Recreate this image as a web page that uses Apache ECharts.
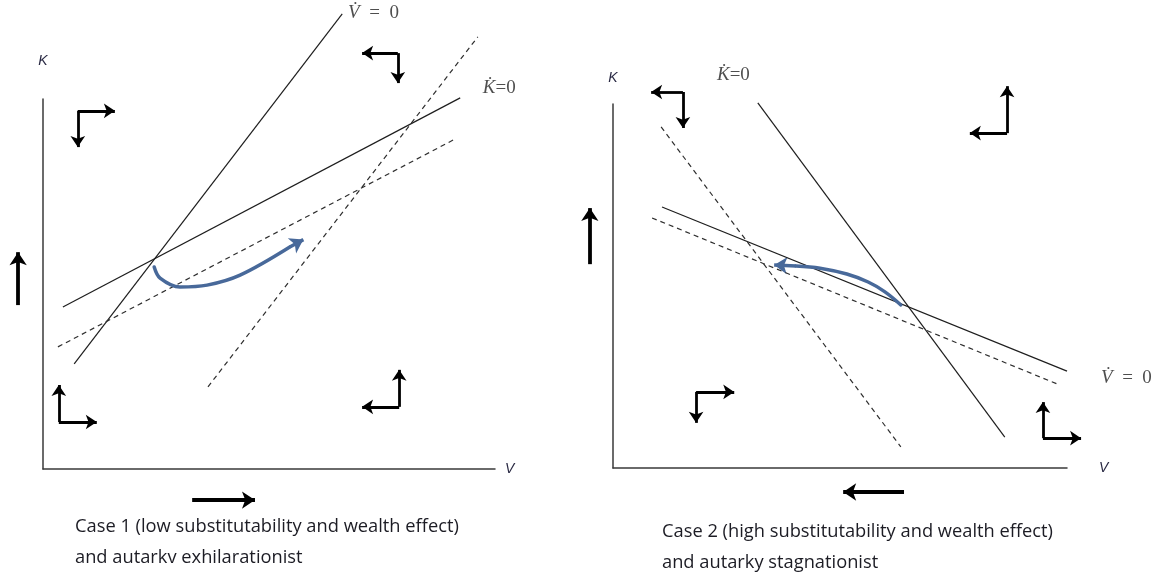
<!DOCTYPE html>
<html>
<head>
<meta charset="utf-8">
<script src="https://cdn.jsdelivr.net/npm/echarts@6/dist/echarts.min.js"></script>
<style>
html,body{margin:0;padding:0;background:#fff;}
#chart{width:1174px;height:576px;}
</style>
</head>
<body>
<div id="chart"></div>
<script>
// ---------- Case 1 (axes in abstract units: V 0..100, K 0..100) ----------
const c1Vdot       = [[6.9, 28.4], [66.2, 123.0]];      // V-dot = 0 (solid, steep)
const c1Kdot       = [[4.4, 43.8], [92.3, 100.3]];      // K-dot = 0 (solid, shallow)
const c1VdotShift  = [[36.5, 22.2], [96.2, 116.8]];     // shifted steep (dashed)
const c1KdotShift  = [[3.3, 33.0], [91.2, 89.2]];       // shifted shallow (dashed)
const c1Path       = [[24.6, 54.6], [25.9, 51.6], [30.3, 49.2], [36.3, 49.7], [43.6, 52.4], [54.6, 60.0], [57.6, 62.0]];
// corner arrows: [tip A, corner, tip B]
const c1Corners    = [
  [[15.9, 96.8], [7.7, 96.8], [7.7, 87.0]],
  [[70.6, 112.4], [78.5, 112.4], [78.5, 104.3]],
  [[3.5, 22.7], [3.5, 12.7], [11.9, 12.7]],
  [[78.8, 26.8], [78.8, 16.8], [70.6, 16.8]]
];
const c1Big        = [[[-5.5, 44.3], [-5.5, 58.6]], [[33.0, -8.4], [46.9, -8.4]]];
const c1Labels     = [['V̇', '  =  0', 67.5, 123.2], ['K̇', '=0', 97.3, 103.0]];
const c1Caption    = ['Case 1 (low substitutability and wealth effect)', 'and autarkv exhilarationist'];

// ---------- Case 2 ----------
const c2Kdot       = [[31.9, 100.3], [86.3, 8.5]];      // K-dot = 0 (solid, steep)
const c2Vdot       = [[10.8, 71.7], [100.0, 26.6]];     // V-dot = 0 (solid, shallow)
const c2KdotShift  = [[10.6, 93.7], [63.4, 5.8]];       // shifted steep (dashed)
const c2VdotShift  = [[8.6, 68.7], [97.8, 23.1]];       // shifted shallow (dashed)
const c2Path       = [[63.4, 44.8], [59.9, 48.4], [56.2, 51.1], [51.5, 53.3], [45.6, 54.9], [40.3, 55.5], [35.5, 55.8]];
const c2Corners    = [
  [[8.4, 103.3], [15.4, 103.3], [15.4, 93.4]],
  [[86.8, 104.9], [86.8, 92.0], [78.6, 92.0]],
  [[26.7, 20.9], [18.3, 20.9], [18.3, 12.4]],
  [[94.7, 18.1], [94.7, 8.2], [103.1, 8.2]]
];
const c2Big        = [[[-5.1, 56.0], [-5.1, 71.4]], [[64.1, -6.6], [50.7, -6.6]]];
const c2Labels     = [['K̇', '=0', 22.9, 108.0], ['V̇', '  =  0', 107.5, 24.7]];
const c2Caption    = ['Case 2 (high substitutability and wealth effect)', 'and autarky stagnationist'];

const BLUE = '#48699a';

function straight(i, pts, dashed) {
  return {
    type: 'line', xAxisIndex: i, yAxisIndex: i, data: pts, showSymbol: false, symbol: 'none',
    clip: false, silent: true,
    lineStyle: { color: dashed ? '#2e2e2e' : '#1e1e1e', width: 1.2, type: dashed ? [5, 4] : 'solid' }
  };
}

function arrowLines(i, segs, size, width, color) {
  return {
    type: 'lines', coordinateSystem: 'cartesian2d', xAxisIndex: i, yAxisIndex: i,
    clip: false, silent: true,
    data: segs.map(c => ({ coords: c })),
    symbol: ['none', 'arrow'], symbolSize: size,
    lineStyle: { color: color, width: width, opacity: 1, curveness: 0 }
  };
}

function panelSeries(i, solids, dashes, path, corners, big, labels) {
  const s = [];
  solids.forEach(p => s.push(straight(i, p, false)));
  dashes.forEach(p => s.push(straight(i, p, true)));
  s.push({
    type: 'line', xAxisIndex: i, yAxisIndex: i, data: path.slice(0, path.length - 1), smooth: 0.35, showSymbol: false,
    symbol: 'none', clip: false, silent: true,
    lineStyle: { color: BLUE, width: 3.5, cap: 'round' }
  });
  s.push(arrowLines(i, [[path[path.length - 2], path[path.length - 1]]], [13, 13], 3.5, BLUE));
  const segs = [];
  corners.forEach(c => { segs.push([c[1], c[0]]); segs.push([c[1], c[2]]); });
  s.push(arrowLines(i, segs, [11, 11], 2.8, '#000'));
  s.push(arrowLines(i, big, [13, 13], 3.8, '#000'));
  s.push({
    type: 'scatter', xAxisIndex: i, yAxisIndex: i, symbolSize: 0, clip: false, silent: true,
    data: labels.map(l => ({ name: l[0] + '|' + l[1], value: [l[2], l[3]] })),
    label: {
      show: true, position: 'right', distance: 0,
      formatter: p => { const t = p.name.split('|'); return '{i|' + t[0] + '}{n|' + t[1] + '}'; },
      rich: {
        i: { fontFamily: 'Liberation Serif', fontStyle: 'italic', fontSize: 19, color: '#222' },
        n: { fontFamily: 'Liberation Serif', fontSize: 19, color: '#222' }
      }
    }
  });
  return s;
}

function xAx(i, gap) {
  return {
    type: 'value', gridIndex: i, min: 0, max: 100,
    axisLine: { show: true, lineStyle: { color: '#3a3a3a', width: 1.5 } },
    axisTick: { show: false }, axisLabel: { show: false }, splitLine: { show: false },
    name: 'V', nameLocation: 'end', nameGap: gap,
    nameTextStyle: { fontFamily: 'Liberation Sans', fontStyle: 'italic', fontSize: 14, color: '#2a2a44', padding: [12, 0, 0, 0] }
  };
}
function yAx(i, gap) {
  return {
    type: 'value', gridIndex: i, min: 0, max: 100,
    axisLine: { show: true, lineStyle: { color: '#3a3a3a', width: 1.5 } },
    axisTick: { show: false }, axisLabel: { show: false }, splitLine: { show: false },
    name: 'K', nameLocation: 'end', nameGap: gap,
    nameTextStyle: { fontFamily: 'Liberation Sans', fontStyle: 'italic', fontSize: 14, color: '#2a2a44' }
  };
}

const captionStyle = { fontFamily: 'Open Sans', fontSize: 18.3, fontWeight: 'normal', color: '#1c1c24', lineHeight: 31 };

const option = {
  animation: false,
  backgroundColor: '#fff',
  title: [
    { text: c1Caption.join('\n'), left: 75, top: 511, textStyle: captionStyle, padding: 0 },
    { text: c2Caption.join('\n'), left: 662, top: 516, textStyle: captionStyle, padding: 0 }
  ],
  grid: [
    { left: 43, top: 99, width: 452, height: 370 },
    { left: 613, top: 104, width: 454, height: 364 }
  ],
  xAxis: [xAx(0, 10), xAx(1, 32)],
  yAxis: [yAx(0, 31), yAx(1, 19)],
  series: [
    ...panelSeries(0, [c1Vdot, c1Kdot], [c1VdotShift, c1KdotShift], c1Path, c1Corners, c1Big, c1Labels),
    ...panelSeries(1, [c2Kdot, c2Vdot], [c2KdotShift, c2VdotShift], c2Path, c2Corners, c2Big, c2Labels)
  ]
};

const chart = echarts.init(document.getElementById('chart'), null, { renderer: 'canvas' });
chart.setOption(option);
</script>
</body>
</html>
